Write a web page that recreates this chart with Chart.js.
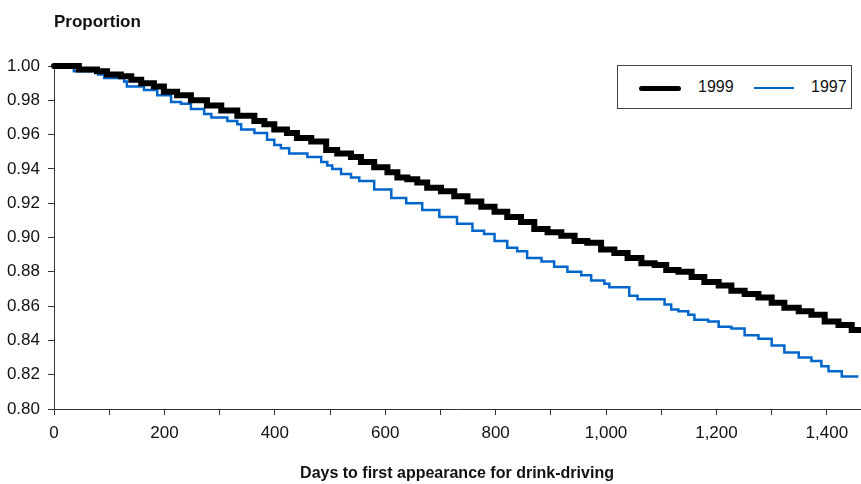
<!DOCTYPE html>
<html>
<head>
<meta charset="utf-8">
<script src="https://cdn.jsdelivr.net/npm/chart.js@4"></script>
<style>
  body { margin: 0; background: #fff; }
  #wrap { position: relative; width: 861px; height: 484px; font-family: "Liberation Sans", Arial, sans-serif; }
  #ytitle { position: absolute; left: 54px; top: 12px; font-size: 17px; font-weight: bold; color: #111; }
  #legend { position: absolute; left: 617px; top: 65px; width: 233px; height: 42px; border: 1px solid #444; background: #fff; font-size: 16px; color: #111; }
  .item { position: absolute; top: 12px; line-height: 18px; }
  .swatch { position: absolute; }
</style>
</head>
<body>
<div id="wrap">
  <canvas id="myChart" width="861" height="484"></canvas>
  <div id="ytitle">Proportion</div>
  <div id="legend">
    <div class="swatch" style="left:21px;top:20px;width:42px;height:5px;background:#000;border-radius:3px"></div>
    <div class="item" style="left:80px">1999</div>
    <div class="swatch" style="left:136px;top:21px;width:40px;height:2px;background:#0066cc"></div>
    <div class="item" style="left:193px">1997</div>
  </div>
</div>
<script>
// survival proportions (value holds from that day on)
const days1999 = [0, 45, 78, 96, 121, 140, 158, 181, 199, 223, 248, 277, 303, 332, 363, 381, 399, 422, 440, 466,
    493, 513, 538, 556, 580, 604, 622, 640, 658, 676, 701, 725, 749, 774, 798, 821, 846, 870, 894, 919,
    943, 966, 991, 1015, 1039, 1064, 1088, 1109, 1131, 1155, 1178, 1204, 1227, 1251, 1276, 1300, 1323, 1349, 1372, 1396,
    1421, 1445, 1460];
const prop1999 = [1.000, 0.998, 0.997, 0.995, 0.994, 0.992, 0.990, 0.988, 0.985, 0.983, 0.980, 0.977, 0.974, 0.971, 0.968, 0.966, 0.963, 0.961, 0.958, 0.956,
    0.951, 0.949, 0.947, 0.944, 0.941, 0.938, 0.935, 0.934, 0.932, 0.929, 0.927, 0.924, 0.921, 0.918, 0.915, 0.912, 0.909, 0.905, 0.903, 0.901,
    0.898, 0.897, 0.893, 0.891, 0.888, 0.885, 0.884, 0.881, 0.880, 0.877, 0.874, 0.872, 0.869, 0.867, 0.865, 0.862, 0.859, 0.857, 0.855, 0.851,
    0.849, 0.846, 0.846];

const days1997 = [0, 36, 80, 91, 127, 132, 163, 187, 212, 230, 248, 272, 285, 314, 332, 339, 363, 386, 399, 411,
    426, 459, 484, 495, 504, 520, 538, 553, 580, 611, 638, 667, 698, 730, 758, 779, 798, 821, 839, 857,
    883, 906, 930, 955, 973, 997, 1006, 1042, 1057, 1106, 1118, 1131, 1149, 1160, 1185, 1204, 1227, 1251, 1276, 1300,
    1323, 1349, 1372, 1390, 1403, 1427, 1457];
const prop1997 = [1.000, 0.997, 0.995, 0.993, 0.991, 0.988, 0.986, 0.983, 0.979, 0.978, 0.975, 0.972, 0.970, 0.968, 0.966, 0.963, 0.961, 0.957, 0.954, 0.952,
    0.949, 0.947, 0.944, 0.942, 0.940, 0.937, 0.935, 0.933, 0.928, 0.923, 0.920, 0.916, 0.912, 0.908, 0.904, 0.902, 0.898, 0.894, 0.892, 0.888,
    0.886, 0.883, 0.880, 0.878, 0.875, 0.873, 0.871, 0.866, 0.864, 0.861, 0.858, 0.857, 0.855, 0.852, 0.851, 0.848, 0.847, 0.843, 0.841, 0.837,
    0.833, 0.830, 0.828, 0.825, 0.822, 0.819, 0.819];

const xTicks = [0, 100, 200, 300, 400, 500, 600, 700, 800, 900, 1000, 1100, 1200, 1300, 1400];
const xTitle = 'Days to first appearance for drink-driving';

const toPoints = (xs, ys) => xs.map((x, i) => ({ x: x, y: ys[i] }));

const axisColor = '#333';
const tickFont = { family: '"Liberation Sans", Arial, sans-serif', size: 17 };

new Chart(document.getElementById('myChart'), {
    type: 'line',
    data: {
        datasets: [{
            label: '1999',
            data: toPoints(days1999, prop1999),
            borderColor: '#000',
            borderWidth: 6,
            borderCapStyle: 'round',
            stepped: true,
            pointRadius: 0,
            fill: false
        }, {
            label: '1997',
            data: toPoints(days1997, prop1997),
            borderColor: '#0066cc',
            borderWidth: 2.5,
            stepped: true,
            pointRadius: 0,
            fill: false
        }]
    },
    options: {
        responsive: false,
        animation: false,
        clip: false,
        layout: { padding: { top: 66, right: 1, left: 0, bottom: 0 } },
        plugins: {
            legend: { display: false },
            tooltip: { enabled: false }
        },
        scales: {
            x: {
                type: 'linear',
                min: 0,
                max: 1460,
                afterFit: s => { s.height = 75; },
                afterBuildTicks: s => { s.ticks = xTicks.map(v => ({ value: v })); },
                border: { display: true, color: axisColor, width: 1 },
                grid: { drawOnChartArea: false, color: axisColor, tickLength: 6 },
                ticks: {
                    autoSkip: false,
                    maxRotation: 0,
                    padding: 8,
                    color: '#111',
                    font: tickFont,
                    callback: v => (v % 200 === 0 ? v.toLocaleString('en-US') : '')
                },
                title: {
                    display: true,
                    text: xTitle,
                    color: '#111',
                    font: { family: '"Liberation Sans", Arial, sans-serif', size: 16, weight: 'bold' },
                    padding: { top: 0, bottom: 1 }
                }
            },
            y: {
                min: 0.8,
                max: 1.0,
                afterFit: s => { s.width = 54; },
                border: { display: true, color: axisColor, width: 1 },
                grid: { drawOnChartArea: false, color: axisColor, tickLength: 6 },
                ticks: {
                    stepSize: 0.02,
                    padding: 8,
                    color: '#111',
                    font: tickFont,
                    callback: v => Number(v).toFixed(2)
                }
            }
        }
    }
});
</script>
</body>
</html>
